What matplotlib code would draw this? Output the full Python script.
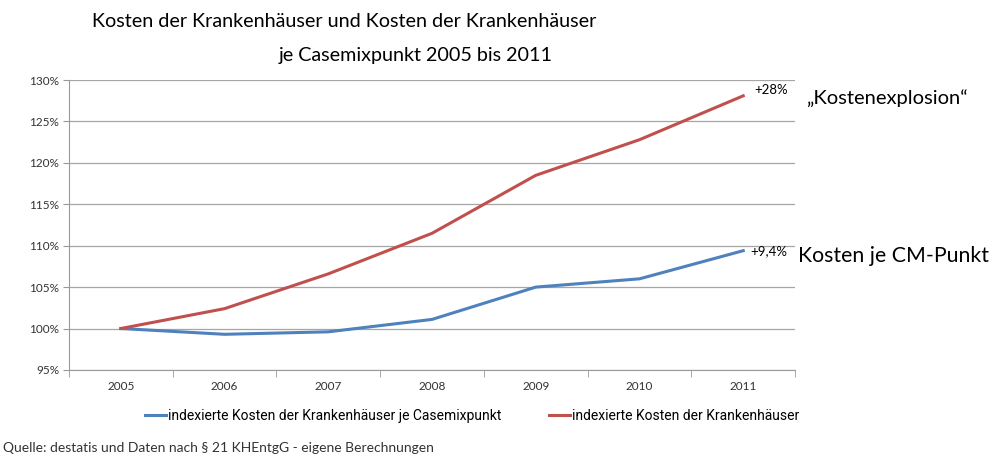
import matplotlib.pyplot as plt
from matplotlib.ticker import FuncFormatter
from matplotlib import font_manager

plt.rcParams['font.family'] = ['Lato', 'DejaVu Sans']

namen = {f.name for f in font_manager.fontManager.ttflist}
schmal = "Liberation Sans Narrow" if "Liberation Sans Narrow" in namen else "Roboto"

# --- Daten ---
jahre = ["2005", "2006", "2007", "2008", "2009", "2010", "2011"]
kosten_je_cm = [100.0, 99.3, 99.6, 101.1, 105.0, 106.0, 109.4]
kosten_gesamt = [100.0, 102.4, 106.6, 111.5, 118.5, 122.8, 128.1]

label_cm = "indexierte Kosten der Krankenhäuser je Casemixpunkt"
label_gesamt = "indexierte Kosten der Krankenhäuser"

blau = "#4F81BD"
rot = "#C0504D"

fig = plt.figure(figsize=(9.96, 4.55), dpi=100)
ax = fig.add_axes([0.0693, 0.187, 0.729, 0.637])

x = list(range(len(jahre)))
ax.plot(x, kosten_je_cm, color=blau, lw=2.2, label=label_cm)
ax.plot(x, kosten_gesamt, color=rot, lw=2.2, label=label_gesamt)

ax.set_xlim(-0.5, len(jahre) - 0.5)
ax.set_ylim(95, 130)
ax.set_yticks(range(95, 131, 5))
ax.yaxis.set_major_formatter(FuncFormatter(lambda v, p: f"{v:.0f}%"))
ax.set_xticks(x)
ax.set_xticklabels(jahre)
ax.set_xticks([i + 0.5 for i in range(-1, len(jahre))], minor=True)
ax.tick_params(axis="x", which="major", length=0, pad=8)
ax.tick_params(axis="x", which="minor", length=5, color="#999999")
ax.tick_params(axis="y", length=4, color="#999999", pad=3)
ax.tick_params(labelsize=8.5, labelcolor="#333333")

ax.grid(axis="y", color="#a6a6a6", lw=0.9)
ax.set_axisbelow(True)
for s in ["top", "right"]:
    ax.spines[s].set_visible(False)
for s in ["left", "bottom"]:
    ax.spines[s].set_color("#999999")

# Anmerkungen am rechten Rand
ax.annotate(f"+{kosten_gesamt[-1] - 100:.0f}%", (x[-1], kosten_gesamt[-1]),
            xytext=(8, 0), textcoords="offset points", fontsize=9.5,
            va="bottom", ha="left")
ax.annotate("+9,4%", (x[-1], kosten_je_cm[-1]),
            xytext=(5, 0), textcoords="offset points", fontsize=9.5,
            va="center", ha="left")
fig.text(0.809, 0.785, "„Kostenexplosion“", fontsize=14.5, va="center")
fig.text(0.801, 0.438, "Kosten je CM-Punkt", fontsize=15.3, va="center")

# Titel in zwei Zeilen
fig.text(344 / 996, 0.952, "Kosten der Krankenhäuser und Kosten der Krankenhäuser",
         fontsize=14.2, ha="center", va="center")
fig.text(416 / 996, 0.877, "je Casemixpunkt 2005 bis 2011",
         fontsize=14.2, ha="center", va="center")

ax.legend(loc="upper center", bbox_to_anchor=(0.555, -0.09), ncol=2, frameon=False,
          prop={"family": schmal, "size": 10}, handlelength=1.5,
          handletextpad=0.15, columnspacing=3.4)

fig.text(0.003, 0.006, "Quelle: destatis und Daten nach § 21 KHEntgG - eigene Berechnungen",
         fontsize=10, color="#333333")

fig.savefig("out.png", dpi=100)
